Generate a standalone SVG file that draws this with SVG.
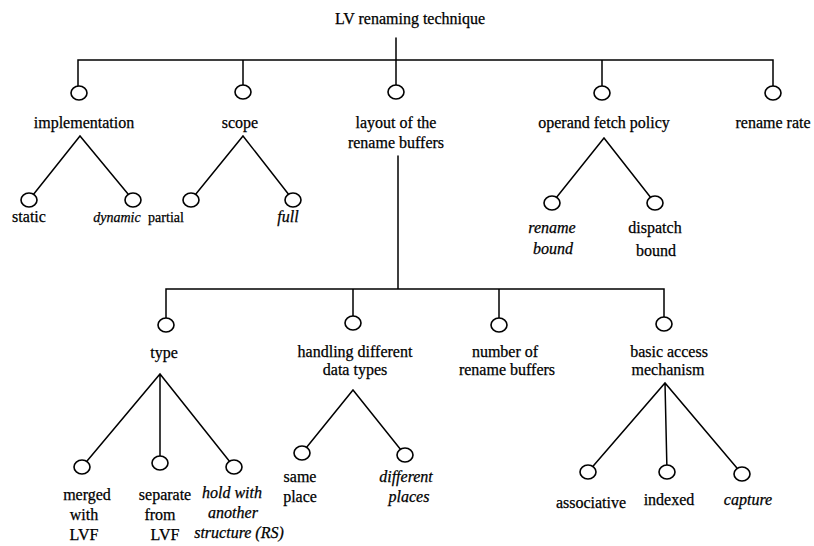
<svg xmlns="http://www.w3.org/2000/svg" width="814" height="546" viewBox="0 0 814 546">
  <style>
    .ln { stroke: #000; stroke-width: 1.5; fill: none; stroke-linecap: round; }
    .nd { stroke: #000; stroke-width: 1.6; fill: #fff; }
    text { font-family: "Liberation Serif", "Times New Roman", serif; font-size: 16px; fill: #000; text-anchor: middle; stroke: #000; stroke-width: 0.25; }
    .it { font-style: italic; }
    .sm { font-size: 14px; }
  </style>
  <rect width="814" height="546" fill="#fff"/>

  <!-- connectors -->
  <g id="connectors">
    <!-- root -->
    <path class="ln" d="M396 38 V60 M78 88 V60 H773 V86 M243 60 V85 M396 60 V85 M602 60 V86"/>
    <!-- implementation -->
    <path class="ln" d="M29 200 L80 136 L133 200"/>
    <!-- scope -->
    <path class="ln" d="M191 200 L243 136 L293 200"/>
    <!-- operand fetch policy -->
    <path class="ln" d="M552 203 L604 138 L655 203"/>
    <!-- layout of the rename buffers -->
    <path class="ln" d="M398 156 V289 M166 318 V289 H664 V317 M353 289 V316 M499 289 V318"/>
    <!-- type -->
    <path class="ln" d="M82 467 L160 374 L234 467 M160 374 V463"/>
    <!-- handling different data types -->
    <path class="ln" d="M302 453 L353 390 L405 455"/>
    <!-- basic access mechanism -->
    <path class="ln" d="M588 472 L665 383 L742 474 M665 383 L667 472"/>
  </g>

  <g id="root">
    <text x="410" y="24">LV renaming technique</text>
  </g>

  <g id="implementation">
    <ellipse class="nd" cx="79" cy="93" rx="8" ry="7"/>
    <text x="84" y="128">implementation</text>
  </g>
  <g id="static">
    <ellipse class="nd" cx="29" cy="200" rx="8" ry="7"/>
    <text x="29" y="222">static</text>
  </g>
  <g id="dynamic">
    <ellipse class="nd" cx="133" cy="200" rx="8" ry="7"/>
    <text class="it sm" x="117" y="222">dynamic</text>
  </g>

  <g id="scope">
    <ellipse class="nd" cx="243" cy="92" rx="8" ry="7"/>
    <text x="240" y="128">scope</text>
  </g>
  <g id="partial">
    <ellipse class="nd" cx="191" cy="200" rx="8" ry="7"/>
    <text class="sm" x="166" y="222">partial</text>
  </g>
  <g id="full">
    <ellipse class="nd" cx="293" cy="200" rx="8" ry="7"/>
    <text class="it" x="288" y="222">full</text>
  </g>

  <g id="layout">
    <ellipse class="nd" cx="396" cy="92" rx="8" ry="7"/>
    <text x="396" y="128">layout of the</text>
    <text x="396" y="148">rename buffers</text>
  </g>

  <g id="operand-fetch-policy">
    <ellipse class="nd" cx="602" cy="93" rx="8" ry="7"/>
    <text x="604" y="128">operand fetch policy</text>
  </g>
  <g id="rename-bound">
    <ellipse class="nd" cx="552" cy="203" rx="8" ry="7"/>
    <text class="it" x="552" y="233">rename</text>
    <text class="it" x="553" y="254">bound</text>
  </g>
  <g id="dispatch-bound">
    <ellipse class="nd" cx="655" cy="203" rx="8" ry="7"/>
    <text x="655" y="233">dispatch</text>
    <text x="656" y="256">bound</text>
  </g>

  <g id="rename-rate">
    <ellipse class="nd" cx="773" cy="93" rx="8" ry="7"/>
    <text x="773" y="128">rename rate</text>
  </g>

  <g id="type">
    <ellipse class="nd" cx="166" cy="325" rx="8" ry="7"/>
    <text x="164" y="358">type</text>
  </g>
  <g id="merged">
    <ellipse class="nd" cx="82" cy="467" rx="8" ry="7"/>
    <text x="87" y="500">merged</text>
    <text x="84" y="520">with</text>
    <text x="84" y="540">LVF</text>
  </g>
  <g id="separate">
    <ellipse class="nd" cx="160" cy="463" rx="8" ry="7"/>
    <text x="165" y="500">separate</text>
    <text x="160" y="520">from</text>
    <text x="165" y="540">LVF</text>
  </g>
  <g id="hold">
    <ellipse class="nd" cx="234" cy="467" rx="8" ry="7"/>
    <text class="it" x="232" y="498">hold with</text>
    <text class="it" x="233" y="518">another</text>
    <text class="it" x="239" y="538">structure (RS)</text>
  </g>

  <g id="handling">
    <ellipse class="nd" cx="353" cy="323" rx="8" ry="7"/>
    <text x="355" y="357">handling different</text>
    <text x="355" y="375">data types</text>
  </g>
  <g id="same-place">
    <ellipse class="nd" cx="302" cy="453" rx="8" ry="7"/>
    <text x="300" y="482">same</text>
    <text x="300" y="502">place</text>
  </g>
  <g id="different-places">
    <ellipse class="nd" cx="405" cy="455" rx="8" ry="7"/>
    <text class="it" x="406" y="482">different</text>
    <text class="it" x="409" y="502">places</text>
  </g>

  <g id="number">
    <ellipse class="nd" cx="499" cy="325" rx="8" ry="7"/>
    <text x="505" y="357">number of</text>
    <text x="507" y="375">rename buffers</text>
  </g>

  <g id="basic-access">
    <ellipse class="nd" cx="664" cy="324" rx="8" ry="7"/>
    <text x="669" y="357">basic access</text>
    <text x="668" y="375">mechanism</text>
  </g>
  <g id="associative">
    <ellipse class="nd" cx="588" cy="472" rx="8" ry="7"/>
    <text x="591" y="508">associative</text>
  </g>
  <g id="indexed">
    <ellipse class="nd" cx="667" cy="472" rx="8" ry="7"/>
    <text x="669" y="505">indexed</text>
  </g>
  <g id="capture">
    <ellipse class="nd" cx="742" cy="474" rx="8" ry="7"/>
    <text class="it" x="748" y="505">capture</text>
  </g>
</svg>
